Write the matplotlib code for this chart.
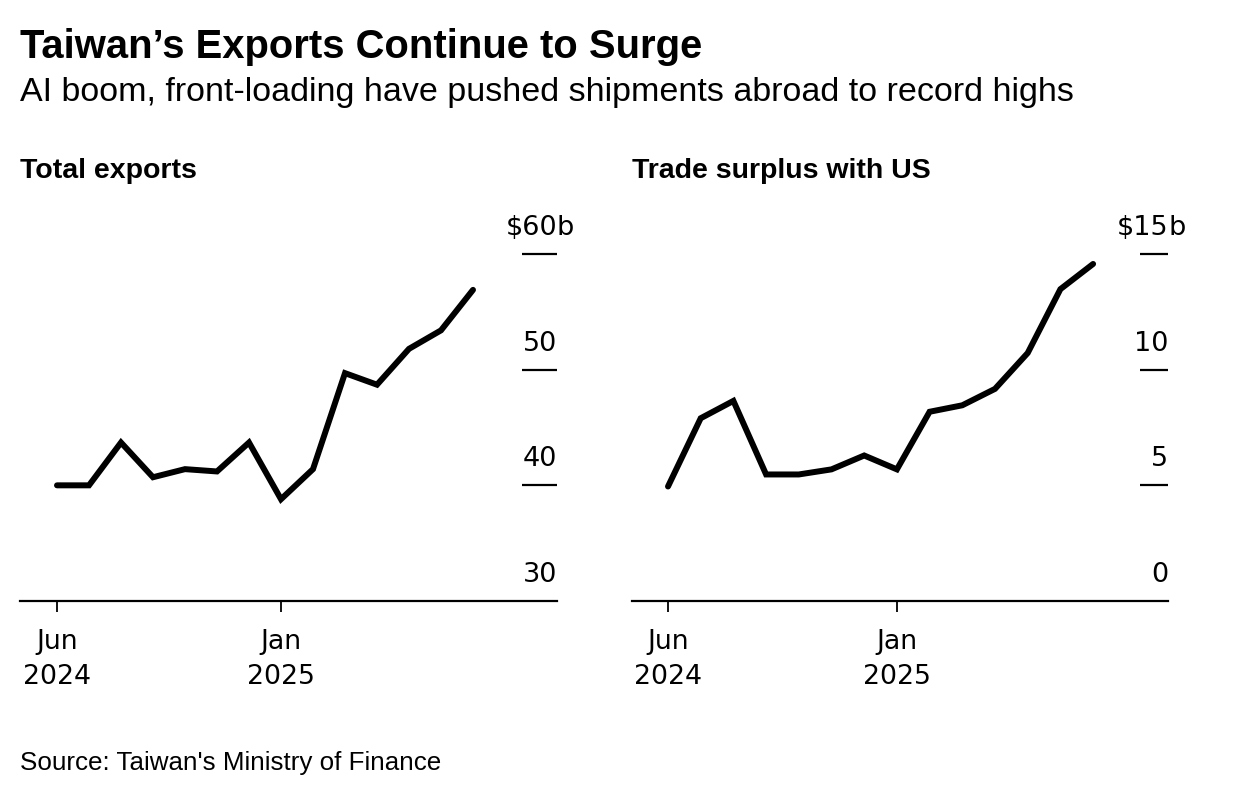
import matplotlib.pyplot as plt
import numpy as np

plt.rcParams['font.family'] = ['Liberation Sans', 'DejaVu Sans']

# monthly, Jun 2024 - Jul 2025
months = np.arange(14)
tick_pos = [0, 7]
tick_labels = ['Jun\n2024', 'Jan\n2025']

exports = [40.0, 40.0, 43.7, 40.7, 41.4, 41.2, 43.7, 38.8, 41.4, 49.7, 48.7, 51.8, 53.4, 56.9]
surplus = [4.95, 7.9, 8.65, 5.47, 5.47, 5.69, 6.29, 5.69, 8.18, 8.46, 9.17, 10.72, 13.48, 14.57]

exp_ticks = [40, 50, 60]
exp_labels = ['40', '50', '$60']
sur_ticks = [5, 10, 15]
sur_labels = ['5', '10', '$15']

W, H = 1236, 796
fig = plt.figure(figsize=(W / 100, H / 100), dpi=100)

fig.text(20 / W, 1 - 47 / H, 'Taiwan\u2019s Exports Continue to Surge',
         fontsize=28.8, fontweight='bold', va='center', ha='left')
fig.text(20 / W, 1 - 93 / H, 'AI boom, front-loading have pushed shipments abroad to record highs',
         fontsize=24.5, va='center', ha='left')
fig.text(20 / W, 1 - 763 / H, "Source: Taiwan's Ministry of Finance",
         fontsize=18.7, va='center', ha='left')

tick_font = 'DejaVu Sans'


def panel(x0, x1, xlim, ylim, yvals, ticks, labels, title, tick_x0):
    ax = fig.add_axes([x0 / W, 1 - 601 / H, (x1 - x0) / W, (601 - 254) / H])
    ax.plot(months, yvals, color='black', lw=4.3, solid_capstyle='round',
            solid_joinstyle='miter', clip_on=False)
    ax.set_xlim(xlim)
    ax.set_ylim(ylim)
    for s in ['top', 'right', 'left']:
        ax.spines[s].set_visible(False)
    ax.spines['bottom'].set_linewidth(1.6)
    ax.set_yticks([])
    ax.set_xticks(tick_pos)
    ax.set_xticklabels(tick_labels, fontsize=19.3, linespacing=1.45, family=tick_font)
    ax.tick_params(axis='x', length=8, width=1.3, pad=12)
    tr = ax.get_yaxis_transform()
    ax.hlines(ticks, tick_x0, 1.0, transform=tr, color='black', lw=1.6, clip_on=False)
    dy = (ylim[1] - ylim[0]) * 26 / 347
    for t, lab in zip(ticks, labels):
        ax.text(1.0, t + dy, lab, transform=tr, fontsize=19.5, ha='right', va='center',
                family=tick_font)
    ax.text(1.0, ylim[0] + dy, str(ylim[0]), transform=tr, fontsize=19.5, ha='right',
            va='center', family=tick_font)
    ax.text(1.0, ticks[-1] + dy, 'b', transform=tr, fontsize=19.5, ha='left', va='center',
            family=tick_font)
    ax.text(0, (254 - 171) / 347 + 1, title, transform=ax.transAxes,
            fontsize=20.5, fontweight='bold', ha='left', va='center')
    return ax


panel(20, 557, (-37 / 32, 500 / 32), (30, 60), exports, exp_ticks, exp_labels,
      'Total exports', 0.935)
panel(632, 1168, (-36 / 32.7, 500 / 32.7), (0, 15), surplus, sur_ticks, sur_labels,
      'Trade surplus with US', 0.948)

plt.savefig('out.png', dpi=100)
